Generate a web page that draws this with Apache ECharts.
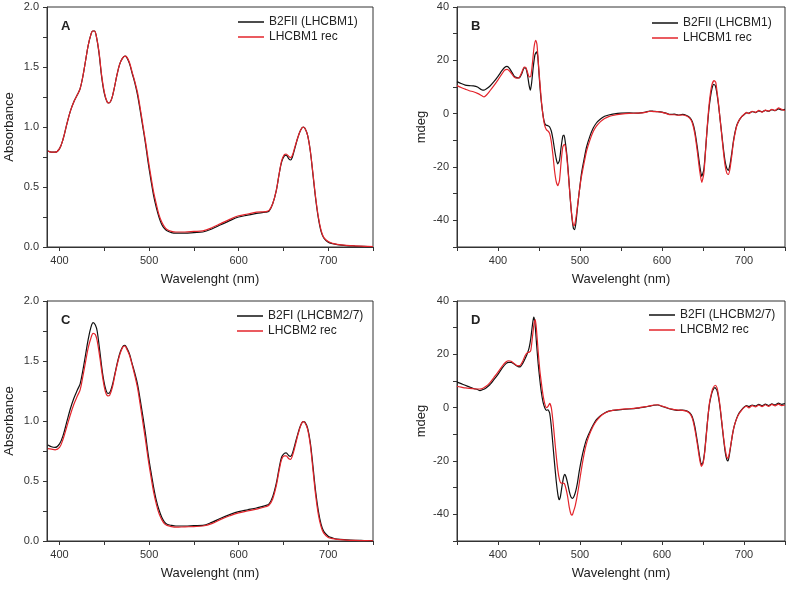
<!DOCTYPE html>
<html><head><meta charset="utf-8">
<script src="https://cdn.jsdelivr.net/npm/echarts@6/dist/echarts.min.js"></script>
<style>html,body{margin:0;padding:0;background:#fff}#c{width:788px;height:592px}</style>
</head><body><div id="c"></div>
<script>
// ---------- Panel A (absorbance, LHCBM1) ----------
const aWl = [387,391,395,400,404,408,412,416,420,423,426,429,432,435,437,439,441,444,447,450,453,455,458,461,464,467,470,473,475,478,481,484,487,490,493,496,499,502,505,508,511,514,517,520,525,530,540,550,560,570,580,590,600,610,620,630,634,638,642,645,648,651,653,656,658,660,663,666,669,672,674,677,680,683,686,689,692,695,700,705,710,720,730,740,750];
const aBlack = [0.80,0.79,0.79,0.82,0.90,1.02,1.13,1.21,1.27,1.32,1.42,1.55,1.68,1.77,1.80,1.80,1.76,1.62,1.42,1.28,1.21,1.20,1.23,1.32,1.43,1.52,1.57,1.59,1.58,1.53,1.45,1.37,1.27,1.14,1.00,0.86,0.70,0.56,0.43,0.33,0.25,0.19,0.155,0.135,0.12,0.115,0.115,0.12,0.125,0.15,0.185,0.22,0.25,0.265,0.28,0.29,0.30,0.36,0.47,0.60,0.71,0.76,0.765,0.735,0.725,0.75,0.83,0.91,0.97,1.0,0.99,0.93,0.80,0.60,0.40,0.24,0.13,0.075,0.04,0.028,0.02,0.012,0.008,0.005,0.002];
const aRed = [0.80,0.79,0.79,0.82,0.90,1.02,1.13,1.21,1.27,1.32,1.42,1.55,1.68,1.77,1.80,1.80,1.76,1.63,1.43,1.29,1.21,1.20,1.23,1.32,1.43,1.52,1.57,1.59,1.585,1.54,1.46,1.38,1.29,1.16,1.02,0.88,0.73,0.59,0.46,0.36,0.27,0.21,0.17,0.145,0.13,0.125,0.125,0.13,0.135,0.16,0.195,0.23,0.26,0.275,0.29,0.295,0.305,0.36,0.47,0.60,0.72,0.77,0.775,0.755,0.745,0.765,0.84,0.91,0.97,1.0,0.99,0.93,0.80,0.61,0.41,0.25,0.14,0.08,0.045,0.03,0.022,0.014,0.009,0.006,0.003];

// ---------- Panel B (CD, LHCBM1) ----------
const bWl = [350,355,360,365,370,375,380,383,386,390,395,400,405,408,411,414,417,420,423,426,429,432,434,436,438,439.5,441,443,445,447,448.5,450,452,454,456,458,461,463,465,467,469,471,473,475,477,479,480.5,482,484,486,488,490,492,493.5,495,497,499,502,505,508,512,516,520,525,530,535,540,550,560,570,580,585,590,595,600,605,610,615,620,625,630,634,637,640,643,646,648.5,651,653,655,657,659,661,663,665,667,669,671,673,675,677,679,681,683,685,687,689,691,694,697,700,703,706,710,714,718,722,726,730,734,738,742,746,750];
const bBlack = [12.0,11.3,10.7,10.5,10.4,10.0,9.0,8.8,9.3,10.3,12.0,14.0,16.2,17.3,17.7,17.0,15.5,14.0,13.5,13.4,15.0,17.2,17.0,14.5,10.5,8.8,11.5,17.5,22.0,23.2,21.5,15.0,7.0,1.5,-2.5,-4.2,-4.5,-5.0,-6.5,-9.5,-13.5,-17.0,-18.8,-17.5,-12.5,-8.5,-8.0,-10.5,-15.5,-23.0,-31.5,-38.5,-43.0,-43.5,-41.0,-35.0,-29.5,-22.0,-17.0,-12.5,-8.5,-5.5,-3.5,-2.0,-1.0,-0.5,-0.2,0.2,0.3,0.2,0.6,1.0,0.9,0.8,0.6,0.2,-0.3,-0.2,-0.5,-0.3,-0.7,-1.5,-3.0,-6.5,-12.5,-19.5,-23.5,-21.0,-14.0,-6.0,1.0,6.0,9.5,11.0,10.5,7.5,3.0,-2.5,-8.0,-13.5,-18.0,-20.5,-21.3,-19.0,-15.0,-10.5,-7.0,-4.5,-2.5,-1.2,-0.4,0.3,0.2,0.8,0.4,1.0,0.7,1.2,0.9,1.5,1.1,1.8,1.4,1.6];
const bWlRed = [350,355,360,365,370,375,380,383,386,390,395,400,405,408,411,414,417,420,423,426,429,432,434,436,438,440,442,444,446,447.5,449,451,453,455,457,459,461,463,465,467,469,471,473,475,477,479,481,483,485,487,489,491,492.5,494,496,498,501,505,508,512,516,520,525,530,535,540,550,560,570,580,585,590,595,600,605,610,615,620,625,630,634,637,640,643,646,648.5,651,653,655,657,659,661,663.5,665.5,667,669,671,673,675,677,679,681,683,685,687,689,691,694,697,700,703,706,710,714,718,722,726,730,734,738,742,746,750];
const bRed = [10.5,9.8,9.2,8.6,8.2,7.6,6.8,6.3,7.0,8.5,10.5,12.7,15.0,16.3,16.6,16.0,14.8,13.6,13.3,13.6,15.5,17.5,17.3,15.5,13.8,14.0,19.0,25.0,27.5,26.0,20.0,12.0,4.5,-1.0,-4.5,-6.0,-6.5,-7.5,-10.5,-15.5,-21.5,-25.5,-27.0,-25.0,-18.0,-12.5,-11.5,-14.0,-20.0,-27.5,-35.0,-40.5,-42.0,-41.0,-37.0,-32.0,-25.0,-18.5,-14.0,-10.0,-6.8,-4.7,-3.0,-1.8,-1.1,-0.7,-0.2,0.1,0.2,0.5,0.9,0.8,0.8,0.5,0.1,-0.4,-0.4,-0.6,-0.5,-0.9,-1.8,-3.5,-7.5,-14.0,-21.5,-25.8,-22.5,-14.5,-5.5,2.0,7.5,11.0,12.4,11.8,8.5,3.5,-2.5,-8.5,-14.5,-19.5,-22.3,-22.8,-20.5,-16.0,-11.0,-7.5,-4.8,-2.5,-1.2,-0.3,0.5,0.0,0.9,0.5,1.2,0.6,1.3,1.0,1.6,1.2,2.2,1.6,1.2];

// ---------- Panel C (absorbance, LHCBM2/7) ----------
const cWl = [387,391,395,400,404,408,412,416,420,423,426,429,432,435,437.5,440,442,445,448,451,454,456,459,462,465,468,471,473,475,478,481,484,487,490,493,496,499,502,505,508,511,514,517,520,525,530,540,550,560,570,580,590,600,610,620,630,634,638,642,645,648,651,653,656,658,660,663,666,669,672,674,677,680,683,686,689,692,695,700,705,710,720,730,740,750];
const cBlack = [0.80,0.785,0.78,0.81,0.88,0.99,1.10,1.19,1.26,1.31,1.42,1.55,1.68,1.78,1.82,1.80,1.75,1.58,1.40,1.28,1.23,1.235,1.30,1.40,1.50,1.58,1.625,1.63,1.61,1.56,1.48,1.40,1.31,1.18,1.04,0.89,0.72,0.58,0.45,0.34,0.26,0.20,0.16,0.14,0.13,0.125,0.125,0.128,0.13,0.155,0.19,0.22,0.245,0.26,0.275,0.295,0.31,0.37,0.48,0.60,0.70,0.73,0.735,0.71,0.705,0.73,0.81,0.89,0.96,0.995,0.99,0.94,0.82,0.62,0.41,0.25,0.14,0.08,0.04,0.025,0.016,0.01,0.006,0.004,0.002];
const cRed = [0.77,0.765,0.76,0.78,0.85,0.95,1.05,1.14,1.21,1.26,1.37,1.49,1.61,1.69,1.73,1.72,1.67,1.53,1.37,1.25,1.21,1.215,1.28,1.39,1.49,1.57,1.62,1.625,1.60,1.55,1.47,1.38,1.28,1.14,0.99,0.84,0.68,0.54,0.41,0.31,0.23,0.18,0.145,0.13,0.12,0.115,0.118,0.12,0.125,0.145,0.18,0.21,0.235,0.25,0.265,0.285,0.30,0.35,0.46,0.58,0.68,0.71,0.71,0.685,0.68,0.71,0.79,0.88,0.955,0.995,0.985,0.93,0.80,0.59,0.38,0.22,0.12,0.065,0.03,0.02,0.013,0.008,0.005,0.003,0.002];

// ---------- Panel D (CD, LHCBM2/7) ----------
const dWl = [350,355,360,365,370,375,378,381,385,390,395,400,405,410,413,416,420,424,427,430,433,436,438,440,442,443.5,445,447,449,451,453,455,457,459,461,463,465,467,469,471,473,474.5,476,478,480,481.5,483,485,487,489,491,493,495,497,499,502,505,508,512,516,520,525,530,535,540,550,560,570,580,585,590,595,600,605,610,615,620,625,630,634,637,640,643,646,648,650,652,654,656,658,660,662,664.5,667,669,671,673,675,677,679,680.5,682,684,686,688,691,694,697,700,703,706,710,714,718,722,726,730,734,738,742,746,750];
const dBlack = [9.6,9.0,8.4,7.8,7.2,6.8,6.4,6.7,7.3,8.6,10.5,12.5,14.8,16.6,17.0,17.0,16.3,15.5,15.3,16.5,18.3,20.5,22.5,26.0,31.0,34.0,32.0,24.0,16.5,10.5,5.5,2.0,0.0,-1.0,-0.8,-2.0,-7.0,-14.0,-21.0,-27.5,-32.5,-34.5,-33.5,-29.5,-26.0,-25.0,-26.0,-28.5,-31.5,-33.5,-34.0,-33.0,-31.0,-28.0,-24.0,-19.0,-15.0,-11.8,-9.0,-6.5,-4.5,-3.0,-2.0,-1.3,-1.0,-0.7,-0.5,-0.2,0.3,0.6,0.9,1.0,0.5,0.0,-0.5,-0.8,-1.0,-0.9,-1.2,-2.0,-3.5,-7.0,-12.5,-18.5,-21.3,-20.5,-16.5,-10.0,-3.5,1.5,4.5,6.5,7.5,6.5,3.8,-0.5,-6.0,-11.5,-16.5,-19.5,-20.0,-18.0,-14.0,-10.0,-7.0,-4.0,-2.0,-0.8,0.2,0.8,0.4,1.0,0.6,1.2,0.7,1.3,0.8,1.4,1.0,1.7,1.2,1.5];
const dWlRed = [350,355,360,365,370,375,378,381,385,390,395,400,405,410,413,416,420,424,427,430,433,436,438,440,442,444,445.5,447,449,451,453,455,457,459,461,463,465,467,469,471,473,475,477,479,481,483,485,487,489,490.5,492,494,496,498,501,504,507,511,516,520,525,530,535,540,550,560,570,580,585,590,595,600,605,610,615,620,625,630,634,637,640,643,646,648,650,652,654,656,658,660,662,665,667,669,671,673,675,677,679,680.5,682,684,686,688,691,694,697,700,703,706,710,714,718,722,726,730,734,738,742,746,750];
const dRed = [8.0,7.7,7.4,7.2,7.1,7.0,7.0,7.2,7.9,9.3,11.3,13.3,15.5,17.2,17.6,17.4,16.5,15.7,15.8,17.3,19.5,20.7,20.8,21.5,26.5,31.5,33.0,29.0,21.0,14.0,9.0,4.5,1.5,0.0,0.5,1.6,0.0,-5.0,-11.5,-18.0,-23.5,-27.0,-28.3,-28.3,-28.5,-30.5,-33.5,-37.5,-40.0,-40.3,-39.0,-37.0,-34.0,-30.5,-24.5,-19.0,-14.5,-10.5,-7.0,-5.0,-3.2,-2.1,-1.4,-1.0,-0.6,-0.4,-0.1,0.4,0.7,1.0,1.1,0.6,0.1,-0.4,-0.7,-0.9,-1.0,-1.3,-2.2,-4.0,-8.0,-13.5,-19.5,-22.0,-21.0,-17.0,-10.5,-3.5,2.0,5.0,7.2,8.4,7.5,4.5,0.0,-5.5,-11.0,-15.5,-18.5,-19.0,-17.3,-13.8,-10.0,-7.0,-4.2,-2.3,-1.0,0.0,0.6,-0.1,0.8,0.3,1.0,0.4,1.1,0.5,1.2,0.7,1.3,0.8,1.0];

// ---------- Text ----------
const panelLetters = ['A','B','C','D'];
const legendNames = [['B2FII (LHCBM1)','LHCBM1 rec'],['B2FII (LHCBM1)','LHCBM1 rec'],['B2FI (LHCBM2/7)','LHCBM2 rec'],['B2FI (LHCBM2/7)','LHCBM2 rec']];
const xTitle = 'Wavelenght (nm)';
const yTitles = ['Absorbance','mdeg','Absorbance','mdeg'];
const absXTicks = [400,450,500,550,600,650,700,750];
const wlLabels = [400,500,600,700];

const zip = (x, y) => x.map((v, i) => [v, y[i]]);
const FONT = 'Liberation Sans, Arial, sans-serif';
const TXT = '#333';

const grids = [
  {left: 47, top: 7, width: 326, height: 240},
  {left: 457, top: 7, width: 328, height: 240},
  {left: 47, top: 301, width: 326, height: 240},
  {left: 457, top: 301, width: 328, height: 240}
];
const isAbs = [true, false, true, false];

const axisLineCfg = {show: true, onZero: false, lineStyle: {color: TXT, width: 1}};
const xAxes = [], yAxes = [], series = [], titles = [], legends = [];
grids.forEach((g, i) => {
  const abs = isAbs[i];
  xAxes.push({
    type: 'value', gridIndex: i,
    min: abs ? 386 : 350, max: 750,
    interval: 50,
    name: xTitle, nameLocation: 'middle', nameGap: 26,
    nameTextStyle: {fontFamily: FONT, fontSize: 13, color: '#222'},
    axisLine: axisLineCfg,
    axisTick: {show: true, inside: false, length: 4, lineStyle: {color: TXT}, customValues: abs ? absXTicks : undefined},
    axisLabel: {fontFamily: FONT, fontSize: 11, color: TXT, margin: 8, customValues: wlLabels},
    splitLine: {show: false}
  });
  yAxes.push({
    type: 'value', gridIndex: i,
    min: abs ? 0 : -50, max: abs ? 2 : 40, interval: abs ? 0.25 : 10,
    name: yTitles[i], nameLocation: 'middle', nameGap: abs ? 31 : 29,
    nameTextStyle: {fontFamily: FONT, fontSize: 13, color: '#222'},
    axisLine: axisLineCfg,
    axisTick: {show: true, inside: false, length: 4, lineStyle: {color: TXT}},
    axisLabel: {fontFamily: FONT, fontSize: 11, color: TXT, margin: 8,
      formatter: abs ? (v => (Math.abs(v * 2 - Math.round(v * 2)) < 1e-9 ? v.toFixed(1) : ''))
                     : (v => (v % 20 === 0 ? String(v) : ''))},
    splitLine: {show: false}
  });
  titles.push({text: panelLetters[i], left: g.left + 9, top: g.top + 8,
    textStyle: {fontFamily: FONT, fontSize: 13, fontWeight: 'bold', color: '#222'}});
});

const data = [
  [zip(aWl, aBlack), zip(aWl, aRed)],
  [zip(bWl, bBlack), zip(bWlRed, bRed)],
  [zip(cWl, cBlack), zip(cWl, cRed)],
  [zip(dWl, dBlack), zip(dWlRed, dRed)]
];
const legendPos = [[238, 16], [652, 17], [237, 310], [649, 309]];
data.forEach((pair, i) => {
  const smooth = isAbs[i] ? 0.35 : 0.2;
  series.push({type: 'line', name: legendNames[i][0], xAxisIndex: i, yAxisIndex: i, data: pair[0],
    symbol: 'none', smooth, lineStyle: {color: '#111', width: 1.2}, itemStyle: {color: '#111'}, z: 3});
  series.push({type: 'line', name: legendNames[i][1], xAxisIndex: i, yAxisIndex: i, data: pair[1],
    symbol: 'none', smooth, lineStyle: {color: '#e3242b', width: 1.2}, itemStyle: {color: '#e3242b'}, z: 4});
  legends.push({
    data: legendNames[i], orient: 'vertical', left: legendPos[i][0], top: legendPos[i][1],
    padding: 0, itemGap: 3, itemWidth: 26, itemHeight: 1.5, icon: 'rect',
    textStyle: {fontFamily: FONT, fontSize: 12, color: '#222'},
    selectedMode: false
  });
});

const chart = echarts.init(document.getElementById('c'), null, {renderer: 'canvas'});
chart.setOption({
  animation: false,
  backgroundColor: '#fff',
  title: titles,
  legend: legends,
  grid: grids.map(g => Object.assign({show: true, borderColor: TXT, borderWidth: 1, backgroundColor: 'transparent'}, g)),
  xAxis: xAxes,
  yAxis: yAxes,
  series: series
});
</script></body></html>
